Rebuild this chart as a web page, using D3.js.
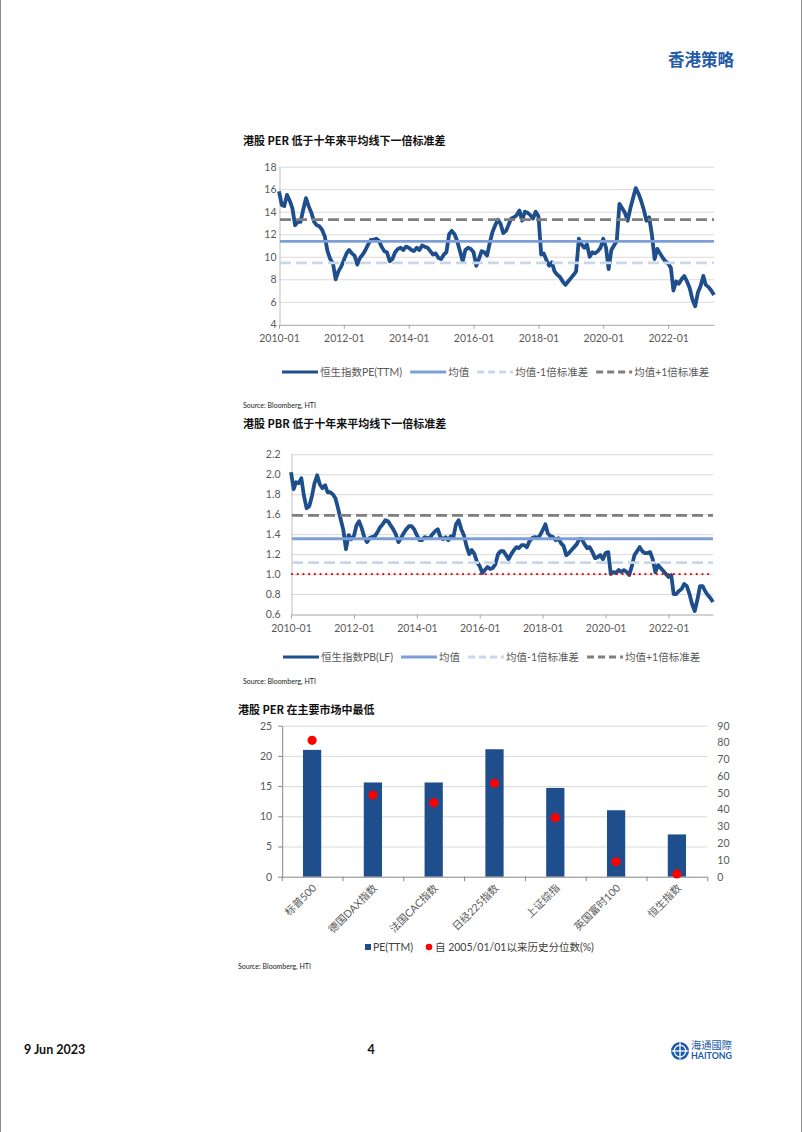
<!DOCTYPE html>
<html><head><meta charset="utf-8">
<script src="https://cdn.jsdelivr.net/npm/d3@7"></script>
<style>body{margin:0;background:#fff}svg{display:block}</style>
</head><body><svg id="c" width="802" height="1132"></svg>
<script>
// ---------------- DATA ----------------
const seriesStart = "2010-01";
// Hang Seng PE (TTM), monthly 2010-01 .. 2023-06
const peValues = [
 15.8,14.6,14.5,15.5,15.0,14.3,12.8,13.1,13.1,14.2,15.2,14.5,
 13.9,13.1,12.8,12.7,12.4,11.8,10.5,9.8,9.4,8.0,8.7,9.1,
 9.7,10.3,10.6,10.3,10.1,9.3,9.9,10.2,10.6,11.1,11.5,11.5,
 11.6,11.4,10.9,10.5,10.4,9.6,9.8,10.4,10.7,10.8,10.6,10.9,
 10.8,10.6,10.5,10.8,10.6,11.0,10.9,10.8,10.5,10.2,10.3,9.9,
 9.8,10.2,10.4,12.0,12.3,12.0,11.4,10.5,9.6,10.6,10.8,10.7,
 10.4,9.2,9.8,10.5,10.4,10.1,11.2,12.2,12.8,13.3,12.9,12.1,
 12.3,12.9,13.4,13.5,13.7,14.1,13.2,14.0,13.9,13.7,13.4,14.0,
 13.6,10.2,10.3,9.7,9.2,9.5,8.7,8.4,8.2,7.8,7.5,7.8,
 8.1,8.4,8.7,11.6,11.1,10.8,11.1,10.0,10.4,10.3,10.5,10.8,
 11.6,10.8,8.9,10.6,11.0,11.4,14.7,14.3,13.9,13.2,14.3,15.2,
 16.1,15.6,15.0,14.2,13.2,13.5,12.0,9.8,10.7,10.3,9.9,9.6,
 9.4,9.0,7.0,7.8,7.6,8.0,8.3,7.8,7.2,6.2,5.6,6.8,
 7.4,8.3,7.5,7.3,7.0,6.6
];
const peMean = 11.37, peLower = 9.45, peUpper = 13.29;
const peTicks = [4,6,8,10,12,14,16,18];

// Hang Seng PB (LF), monthly 2010-01 .. 2023-06
const pbValues = [
 2.02,1.85,1.92,1.91,1.96,1.78,1.66,1.68,1.78,1.91,1.99,1.90,
 1.86,1.89,1.82,1.82,1.80,1.76,1.66,1.55,1.44,1.25,1.39,1.35,
 1.38,1.49,1.53,1.46,1.37,1.32,1.36,1.37,1.38,1.42,1.47,1.50,
 1.54,1.53,1.49,1.45,1.40,1.32,1.36,1.41,1.45,1.48,1.48,1.45,
 1.39,1.34,1.34,1.37,1.36,1.36,1.40,1.43,1.45,1.37,1.35,1.37,
 1.34,1.38,1.37,1.50,1.54,1.45,1.39,1.28,1.20,1.24,1.20,1.12,
 1.08,1.01,1.04,1.07,1.05,1.06,1.10,1.20,1.23,1.23,1.19,1.15,
 1.20,1.24,1.27,1.26,1.29,1.29,1.27,1.33,1.36,1.37,1.36,1.39,
 1.44,1.50,1.41,1.38,1.37,1.34,1.36,1.31,1.28,1.19,1.21,1.24,
 1.27,1.30,1.35,1.35,1.30,1.26,1.27,1.22,1.16,1.17,1.19,1.15,
 1.21,1.22,1.00,1.02,1.01,1.04,1.02,1.04,1.02,0.99,1.08,1.19,
 1.23,1.27,1.23,1.21,1.21,1.22,1.15,1.02,1.09,1.06,1.03,1.00,
 0.97,0.99,0.80,0.80,0.83,0.85,0.90,0.88,0.80,0.70,0.63,0.74,
 0.88,0.88,0.83,0.79,0.76,0.72
];
const pbMean = 1.354, pbLower = 1.114, pbUpper = 1.589, pbParity = 1.0;
const pbTicks = [0.6,0.8,1.0,1.2,1.4,1.6,1.8,2.0,2.2];

const dateTicks = ["2010-01","2012-01","2014-01","2016-01","2018-01","2020-01","2022-01"];

const markets = ["标普500","德国DAX指数","法国CAC指数","日经225指数","上证综指","英国富时100","恒生指数"];
const marketPE = [21.0,15.6,15.6,21.1,14.7,11.0,7.0];
const marketPercentile = [81.3,48.7,44.1,55.7,35.2,8.9,1.6];
const peTicksLeft = [0,5,10,15,20,25];
const pctTicksRight = [0,10,20,30,40,50,60,70,80,90];

// ---------------- DRAW ----------------
const svg = d3.select("#c");
const NUM = "Lato, 'Noto Sans CJK SC', sans-serif";
const CJK = "'Noto Sans CJK SC', sans-serif";
const parseM = d3.timeParse("%Y-%m");
const fmtM = d3.timeFormat("%Y-%m");
const DARK = "#1f4e8c", MEANC = "#7b9fd6", LOWC = "#c8d7ec", UPC = "#7f7f7f";

// page border
svg.append("line").attr("x1",0.5).attr("x2",0.5).attr("y1",0).attr("y2",1132).attr("stroke","#8c8c8c");
svg.append("line").attr("x1",801.5).attr("x2",801.5).attr("y1",0).attr("y2",1132).attr("stroke","#8c8c8c");

// header
svg.append("text").attr("x",734).attr("y",66).attr("text-anchor","end")
  .attr("font-family",CJK).attr("font-weight","bold").attr("font-size",16.5)
  .attr("fill","#1f5ba8").text("香港策略");

function lineChart(cfg){
  const g = svg.append("g");
  const start = parseM(seriesStart);
  const data = cfg.values.map((v,i)=>({d:d3.timeMonth.offset(start,i), v}));
  const x = d3.scaleTime().domain([start, parseM("2023-06")]).range([cfg.left, cfg.right]);
  const y = d3.scaleLinear().domain([cfg.ticks[0], cfg.ticks[cfg.ticks.length-1]]).range([cfg.bottom, cfg.top]);

  g.append("text").attr("x",cfg.titleX).attr("y",cfg.titleY).attr("font-family",CJK)
   .attr("font-weight","bold").attr("font-size",11).attr("fill","#111").text(cfg.title);

  // grid
  g.selectAll(".gr").data(cfg.ticks.slice(1)).join("line")
   .attr("x1",cfg.left).attr("x2",cfg.right).attr("y1",d=>y(d)+0.5).attr("y2",d=>y(d)+0.5)
   .attr("stroke","#d9d9d9").attr("stroke-width",1);

  // y axis
  const ya = g.append("g").attr("transform",`translate(${cfg.left+0.5},0)`)
    .call(d3.axisLeft(y).tickValues(cfg.ticks).tickFormat(cfg.fmt).tickSize(0).tickPadding(cfg.yPad));
  ya.select(".domain").attr("stroke","#bfbfbf");
  ya.selectAll("text").attr("font-family",NUM).attr("font-size",10.5).attr("fill","#595959");

  // x axis
  const xa = g.append("g").attr("transform",`translate(0,${cfg.bottom+0.5})`)
    .call(d3.axisBottom(x).tickValues(dateTicks.map(parseM)).tickFormat(fmtM).tickSize(4).tickSizeOuter(0).tickPadding(6));
  xa.select(".domain").attr("stroke","#a6a6a6");
  xa.selectAll(".tick line").attr("stroke","#a6a6a6");
  xa.selectAll("text").attr("font-family",NUM).attr("font-size",10.5).attr("fill","#595959");

  // series
  const line = d3.line().x(d=>x(d.d)).y(d=>y(d.v)).curve(d3.curveLinear);
  g.append("path").datum(data).attr("d",line).attr("fill","none")
   .attr("stroke",DARK).attr("stroke-width",3.8).attr("stroke-linejoin","round");

  // reference lines
  cfg.refs.forEach(r=>{
    g.append("line").attr("x1",cfg.left+1).attr("x2",cfg.right).attr("y1",y(r.v)).attr("y2",y(r.v))
     .attr("stroke",r.c).attr("stroke-width",r.w).attr("stroke-dasharray",r.dash||null)
     .attr("stroke-linecap",r.cap||"butt");
  });

  // legend
  let lx = cfg.legendX;
  const ly = cfg.legendY;
  cfg.legend.forEach(it=>{
    g.append("line").attr("x1",lx).attr("x2",lx+36).attr("y1",ly).attr("y2",ly)
     .attr("stroke",it.c).attr("stroke-width",3).attr("stroke-dasharray",it.dash||null);
    const t = g.append("text").attr("x",lx+38).attr("y",ly+3.6).attr("font-family",NUM)
     .attr("font-size",10.5).attr("fill","#595959").text(it.t);
    lx += 38 + t.node().getComputedTextLength() + 8;
  });

  g.append("text").attr("x",cfg.titleX).attr("y",cfg.sourceY).attr("font-family",NUM)
   .attr("font-size",7).attr("fill","#222").text("Source: Bloomberg, HTI");
}

lineChart({
  title:"港股 PER 低于十年来平均线下一倍标准差", titleX:243, titleY:145,
  left:279, right:714, top:166.7, bottom:324.3, ticks:peTicks, fmt:d3.format("d"), yPad:3,
  values:peValues,
  refs:[{v:peMean,c:MEANC,w:2.8},{v:peLower,c:LOWC,w:2.8,dash:"11,5"},{v:peUpper,c:UPC,w:2.8,dash:"11,5"}],
  legendX:282, legendY:372,
  legend:[{t:"恒生指数PE(TTM)",c:DARK},{t:"均值",c:MEANC},{t:"均值-1倍标准差",c:LOWC,dash:"7,4"},{t:"均值+1倍标准差",c:UPC,dash:"7,4"}],
  sourceY:408
});

lineChart({
  title:"港股 PBR 低于十年来平均线下一倍标准差", titleX:243, titleY:428,
  left:291, right:713, top:454.3, bottom:614, ticks:pbTicks, fmt:d3.format(".1f"), yPad:11,
  values:pbValues,
  refs:[{v:pbMean,c:MEANC,w:2.8},{v:pbLower,c:LOWC,w:2.8,dash:"11,5"},{v:pbUpper,c:UPC,w:2.8,dash:"11,5"},
        {v:pbParity,c:"#ff0000",w:2.2,dash:"0.1,5.6",cap:"round"}],
  legendX:283, legendY:657,
  legend:[{t:"恒生指数PB(LF)",c:DARK},{t:"均值",c:MEANC},{t:"均值-1倍标准差",c:LOWC,dash:"7,4"},{t:"均值+1倍标准差",c:UPC,dash:"7,4"}],
  sourceY:684
});

// ---------- bar chart ----------
(function(){
  const g = svg.append("g");
  const L=281.7, R=707.3, T=725.7, B=876.7;
  const x = d3.scaleBand().domain(markets).range([L,R]).padding(0);
  const yl = d3.scaleLinear().domain([0,25]).range([B,T]);
  const yr = d3.scaleLinear().domain([0,90]).range([B,T]);

  g.append("text").attr("x",238).attr("y",714).attr("font-family",CJK)
   .attr("font-weight","bold").attr("font-size",11).attr("fill","#111").text("港股 PER 在主要市场中最低");

  g.selectAll(".gr").data(peTicksLeft.slice(1)).join("line")
   .attr("x1",L).attr("x2",R).attr("y1",d=>yl(d)+0.5).attr("y2",d=>yl(d)+0.5).attr("stroke","#d9d9d9");

  const bw = x.bandwidth()*0.3;
  g.selectAll(".bar").data(markets).join("rect")
   .attr("x",d=>x(d)+x.bandwidth()/2-bw/2).attr("width",bw)
   .attr("y",(d,i)=>yl(marketPE[i])).attr("height",(d,i)=>B-yl(marketPE[i]))
   .attr("fill","#1f4e8c");

  const la = g.append("g").attr("transform",`translate(${L+0.5},0)`)
    .call(d3.axisLeft(yl).tickValues(peTicksLeft).tickSize(4).tickSizeOuter(0).tickPadding(6));
  la.select(".domain").attr("stroke","#868686");
  la.selectAll(".tick line").attr("stroke","#868686");
  la.selectAll("text").attr("font-family",NUM).attr("font-size",10.5).attr("fill","#595959");

  const ra = g.append("g").attr("transform",`translate(${R},0)`)
    .call(d3.axisRight(yr).tickValues(pctTicksRight).tickSize(0).tickPadding(10));
  ra.select(".domain").remove();
  ra.selectAll("text").attr("font-family",NUM).attr("font-size",10.5).attr("fill","#595959");

  // bottom axis with boundary ticks
  g.append("line").attr("x1",L).attr("x2",R).attr("y1",B+0.5).attr("y2",B+0.5).attr("stroke","#868686");
  const bounds = markets.map(m=>x(m)).concat([R]);
  g.selectAll(".bt").data(bounds).join("line")
   .attr("x1",d=>d+0.5).attr("x2",d=>d+0.5).attr("y1",B).attr("y2",B+4.5).attr("stroke","#868686");

  g.selectAll(".xl").data(markets).join("text")
   .attr("transform",d=>`translate(${x(d)+x.bandwidth()/2+5},${B+12}) rotate(-45)`)
   .attr("text-anchor","end").attr("font-family",NUM).attr("font-size",10.5).attr("fill","#595959")
   .text(d=>d);

  g.selectAll(".dot").data(markets).join("circle")
   .attr("cx",d=>x(d)+x.bandwidth()/2).attr("cy",(d,i)=>yr(marketPercentile[i])).attr("r",4.6)
   .attr("fill","#ff0000");

  // legend
  g.append("rect").attr("x",365).attr("y",944).attr("width",6).attr("height",6).attr("fill","#1f4e8c");
  g.append("text").attr("x",373).attr("y",951).attr("font-family",NUM).attr("font-size",10.5).attr("fill","#404040").text("PE(TTM)");
  g.append("circle").attr("cx",429).attr("cy",947).attr("r",3.3).attr("fill","#ff0000");
  g.append("text").attr("x",435).attr("y",951).attr("font-family",NUM).attr("font-size",10.5).attr("fill","#404040").text("自 2005/01/01以来历史分位数(%)");

  g.append("text").attr("x",238).attr("y",969).attr("font-family",NUM)
   .attr("font-size",7).attr("fill","#222").text("Source: Bloomberg, HTI");
})();

// footer
svg.append("text").attr("x",24).attr("y",1054).attr("font-family",NUM).attr("font-weight","bold")
  .attr("font-size",12.5).attr("fill","#111").text("9 Jun 2023");
svg.append("text").attr("x",371).attr("y",1054).attr("text-anchor","middle").attr("font-family",NUM).attr("font-weight","bold")
  .attr("font-size",12.5).attr("fill","#111").text("4");
const logo = svg.append("g").attr("transform","translate(680,1051)");
logo.append("circle").attr("r",9).attr("fill","#1a5aa8");
logo.append("circle").attr("r",5.8).attr("fill","none").attr("stroke","#fff").attr("stroke-width",1.3);
logo.append("line").attr("x1",-8.5).attr("x2",8.5).attr("y1",0).attr("y2",0).attr("stroke","#fff").attr("stroke-width",1.3);
logo.append("line").attr("x1",0).attr("x2",0).attr("y1",-8.5).attr("y2",8.5).attr("stroke","#fff").attr("stroke-width",1.3);
svg.append("text").attr("x",691).attr("y",1049).attr("font-family",CJK).attr("font-size",10)
  .attr("textLength",41).attr("lengthAdjust","spacingAndGlyphs").attr("fill","#1a5aa8").text("海通國際");
svg.append("text").attr("x",691).attr("y",1059).attr("font-family",NUM).attr("font-weight","bold").attr("font-size",8.5)
  .attr("textLength",41).attr("lengthAdjust","spacingAndGlyphs").attr("fill","#1a5aa8").text("HAITONG");
</script></body></html>
